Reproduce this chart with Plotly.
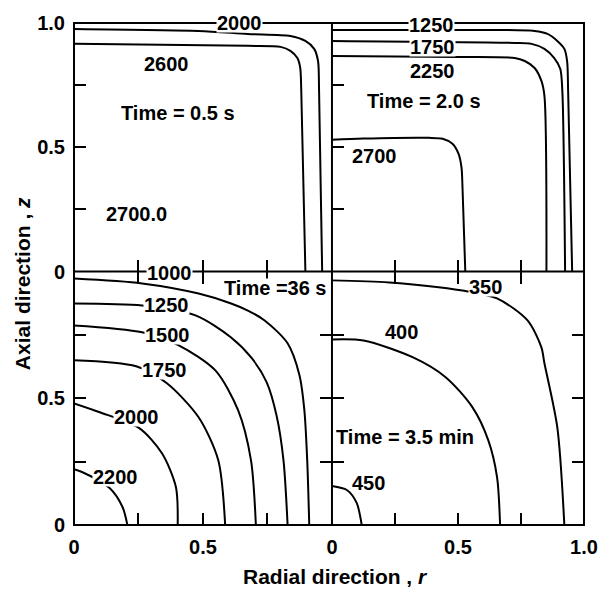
import plotly.graph_objects as go

# Isotherms in the (r, z) quarter section of the cylinder at four times.
# Each isotherm is a list of (r, z) points.

# Time = 0.5 s
iso_05s_outer_r = [0.0, 0.483, 0.674, 0.839, 0.897, 0.931, 0.946, 0.950, 0.962]
iso_05s_outer_z = [0.976, 0.968, 0.956, 0.948, 0.928, 0.896, 0.847, 0.727, 0.0]
iso_05s_2600_r = [0.0, 0.674, 0.801, 0.839, 0.866, 0.877, 0.881, 0.897]
iso_05s_2600_z = [0.916, 0.908, 0.904, 0.888, 0.859, 0.819, 0.727, 0.0]

# Time = 2.0 s
iso_2s_1250_r = [0.0, 0.5, 0.804, 0.855, 0.894, 0.922, 0.933, 0.937, 0.953]
iso_2s_1250_z = [0.972, 0.972, 0.968, 0.956, 0.928, 0.896, 0.847, 0.727, 0.0]
iso_2s_1750_r = [0.0, 0.725, 0.792, 0.843, 0.882, 0.906, 0.914, 0.925]
iso_2s_1750_z = [0.928, 0.920, 0.916, 0.896, 0.859, 0.815, 0.727, 0.0]
iso_2s_2250_r = [0.0, 0.502, 0.725, 0.765, 0.804, 0.831, 0.843, 0.851]
iso_2s_2250_z = [0.867, 0.863, 0.859, 0.847, 0.819, 0.767, 0.707, 0.0]
iso_2s_2700_r = [0.0, 0.125, 0.384, 0.439, 0.478, 0.502, 0.514, 0.518, 0.529]
iso_2s_2700_z = [0.530, 0.535, 0.538, 0.534, 0.514, 0.474, 0.418, 0.337, 0.0]

# Time = 36 s
iso_36s_1000_r = [0.0, 0.264, 0.483, 0.609, 0.674, 0.739, 0.828, 0.874, 0.893, 0.904, 0.912]
iso_36s_1000_z = [0.972, 0.953, 0.913, 0.874, 0.846, 0.807, 0.717, 0.591, 0.453, 0.256, 0.0]
iso_36s_1250_r = [0.0, 0.264, 0.471, 0.609, 0.690, 0.747, 0.785, 0.812, 0.828]
iso_36s_1250_z = [0.874, 0.866, 0.827, 0.740, 0.657, 0.563, 0.433, 0.256, 0.0]
iso_36s_1500_r = [0.0, 0.264, 0.406, 0.548, 0.636, 0.686, 0.705]
iso_36s_1500_z = [0.787, 0.760, 0.709, 0.610, 0.453, 0.256, 0.0]
iso_36s_1750_r = [0.0, 0.241, 0.360, 0.483, 0.559, 0.586]
iso_36s_1750_z = [0.650, 0.626, 0.559, 0.425, 0.256, 0.0]
iso_36s_2000_r = [0.0, 0.100, 0.253, 0.341, 0.395, 0.402]
iso_36s_2000_z = [0.480, 0.445, 0.382, 0.283, 0.150, 0.0]
iso_36s_2200_r = [0.0, 0.031, 0.138, 0.188, 0.207]
iso_36s_2200_z = [0.220, 0.209, 0.146, 0.071, 0.0]

# Time = 3.5 min
iso_35m_350_r = [0.0, 0.227, 0.518, 0.655, 0.776, 0.831, 0.843, 0.894, 0.922]
iso_35m_350_z = [0.965, 0.957, 0.925, 0.894, 0.807, 0.701, 0.638, 0.386, 0.0]
iso_35m_400_r = [0.0, 0.125, 0.322, 0.451, 0.557, 0.620, 0.655, 0.667]
iso_35m_400_z = [0.732, 0.728, 0.661, 0.583, 0.465, 0.335, 0.189, 0.0]
iso_35m_450_r = [0.0, 0.059, 0.098, 0.118]
iso_35m_450_z = [0.154, 0.138, 0.087, 0.0]

tick_vals = [0, 0.25, 0.5, 0.75, 1.0]
tick_text_full = ["0", "", "0.5", "", "1.0"]
tick_text_short = ["0", "", "0.5", "", ""]

FONT = "Liberation Sans"
INK = "black"

panels = [
    ("x", "y", [(iso_05s_outer_r, iso_05s_outer_z), (iso_05s_2600_r, iso_05s_2600_z)]),
    ("x2", "y2", [(iso_2s_1250_r, iso_2s_1250_z), (iso_2s_1750_r, iso_2s_1750_z),
                  (iso_2s_2250_r, iso_2s_2250_z), (iso_2s_2700_r, iso_2s_2700_z)]),
    ("x3", "y3", [(iso_36s_1000_r, iso_36s_1000_z), (iso_36s_1250_r, iso_36s_1250_z),
                  (iso_36s_1500_r, iso_36s_1500_z), (iso_36s_1750_r, iso_36s_1750_z),
                  (iso_36s_2000_r, iso_36s_2000_z), (iso_36s_2200_r, iso_36s_2200_z)]),
    ("x4", "y4", [(iso_35m_350_r, iso_35m_350_z), (iso_35m_400_r, iso_35m_400_z),
                  (iso_35m_450_r, iso_35m_450_z)]),
]

fig = go.Figure()
for xa, ya, curves in panels:
    for r, z in curves:
        fig.add_trace(go.Scatter(
            x=r, y=z, xaxis=xa, yaxis=ya, mode="lines",
            line=dict(color=INK, width=2, shape="spline", smoothing=0.8),
            hoverinfo="skip", showlegend=False,
        ))

# Contour values and panel captions: (text, axis pair, r, z)
labels = [
    ("2000", "x", "y", 0.640, 1.0),
    ("2600", "x", "y", 0.360, 0.835),
    ("Time = 0.5 s", "x", "y", 0.402, 0.639),
    ("2700.0", "x", "y", 0.241, 0.233),
    ("1250", "x2", "y2", 0.396, 0.990),
    ("1750", "x2", "y2", 0.400, 0.904),
    ("2250", "x2", "y2", 0.400, 0.807),
    ("Time = 2.0 s", "x2", "y2", 0.365, 0.687),
    ("2700", "x2", "y2", 0.169, 0.466),
    ("1000", "x3", "y3", 0.372, 0.996),
    ("Time =36 s", "x3", "y3", 0.778, 0.933),
    ("1250", "x3", "y3", 0.360, 0.866),
    ("1500", "x3", "y3", 0.364, 0.748),
    ("1750", "x3", "y3", 0.349, 0.610),
    ("2000", "x3", "y3", 0.241, 0.425),
    ("2200", "x3", "y3", 0.161, 0.189),
    ("350", "x4", "y4", 0.608, 0.937),
    ("400", "x4", "y4", 0.275, 0.760),
    ("Time = 3.5 min", "x4", "y4", 0.290, 0.346),
    ("450", "x4", "y4", 0.145, 0.165),
]

annotations = []
for text, xa, ya, r, z in labels:
    annotations.append(dict(
        text=text, x=r, y=z, xref=xa, yref=ya, showarrow=False,
        xanchor="center", yanchor="middle", bgcolor="white", borderpad=0,
        height=18, font=dict(family=FONT, size=20, color=INK, weight="bold"),
    ))

annotations.append(dict(
    text="Axial direction , <i>z</i>", x=-0.1008, y=0.481, xref="paper", yref="paper",
    showarrow=False, textangle=-90, xanchor="center", yanchor="middle",
    font=dict(family=FONT, size=21, color=INK, weight="bold"),
))
annotations.append(dict(
    text="Radial direction , <i>r</i>", x=0.5136, y=-0.1034, xref="paper", yref="paper",
    showarrow=False, xanchor="center", yanchor="middle",
    font=dict(family=FONT, size=21, color=INK, weight="bold"),
))

XS = 261 / 516
YS = 254 / 503

# Panel frame: outer box plus the cross separating the four time panels
frame = dict(color=INK, width=2)
shapes = [
    dict(type="rect", xref="paper", yref="paper", x0=0, x1=1, y0=0, y1=1,
         line=frame, layer="above"),
    dict(type="line", xref="paper", yref="paper", x0=XS, x1=XS, y0=0, y1=1,
         line=frame, layer="above"),
    dict(type="line", xref="paper", yref="paper", x0=0, x1=1, y0=YS, y1=YS,
         line=frame, layer="above"),
]


def axis(domain, anchor, text, mirror, show_labels, standoff):
    return dict(
        domain=domain, anchor=anchor, range=[0, 1], fixedrange=True,
        showgrid=False, zeroline=False, showline=False,
        mirror=mirror, ticks="inside", ticklen=12, tickwidth=2, tickcolor=INK,
        tickvals=tick_vals, ticktext=text, showticklabels=show_labels,
        ticklabelstandoff=standoff,
        tickfont=dict(family=FONT, size=20, color=INK, weight="bold"),
    )


fig.update_layout(
    width=610, height=589,
    margin=dict(l=74, r=20, t=22, b=64),
    paper_bgcolor="white", plot_bgcolor="white",
    showlegend=False,
    xaxis=axis([0, XS], "y", tick_text_short, False, False, 8),
    yaxis=axis([YS, 1], "x", tick_text_full, False, True, 8),
    xaxis2=axis([XS, 1], "y2", tick_text_full, False, False, 8),
    yaxis2=axis([YS, 1], "x2", tick_text_full, False, False, 8),
    xaxis3=axis([0, XS], "y3", tick_text_short, "ticks", True, 8),
    yaxis3=axis([0, YS], "x3", tick_text_short, "ticks", True, 8),
    xaxis4=axis([XS, 1], "y4", tick_text_full, "ticks", True, 8),
    yaxis4=axis([0, YS], "x4", tick_text_full, "ticks", False, 8),
    shapes=shapes,
    annotations=annotations,
)

fig.write_html("out.html")
